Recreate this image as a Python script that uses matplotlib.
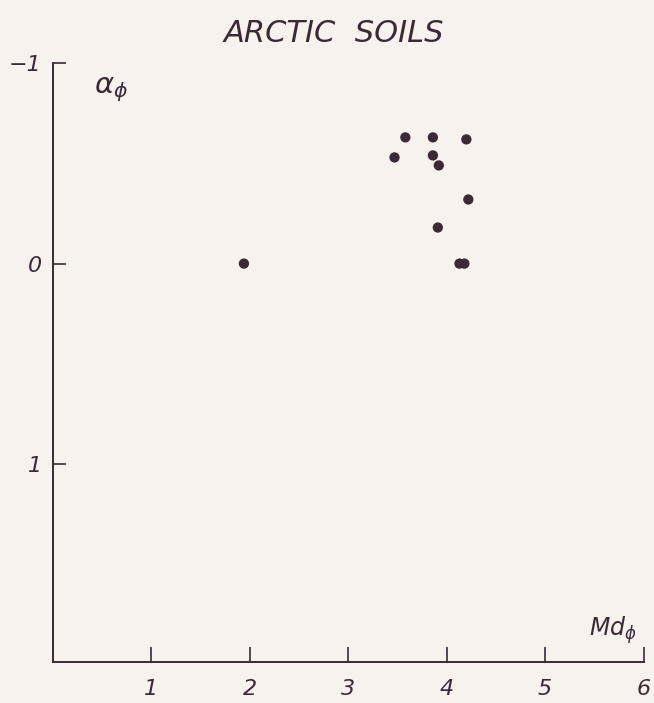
import matplotlib

matplotlib.use("Agg")
import matplotlib.pyplot as plt

# median grain size (phi) and skewness (phi) of arctic soil samples
md_phi = [1.94, 3.47, 3.58, 3.86, 3.86, 3.92, 3.91, 4.20, 4.22, 4.13, 4.18]
alpha_phi = [0.0, -0.53, -0.63, -0.63, -0.54, -0.49, -0.18, -0.62, -0.32, 0.0, 0.0]

x_ticks = [1, 2, 3, 4, 5, 6]
y_ticks = [-1, 0, 1]
y_tick_labels = ["\u22121", "0", "1"]

ink = "#3a2a36"
paper = "#f8f2ee"

fig = plt.figure(figsize=(6.54, 7.03), dpi=100, facecolor=paper)
ax = fig.add_axes([0.081, 0.058, 0.903, 0.852])
ax.set_facecolor(paper)

ax.scatter(md_phi, alpha_phi, s=55, color=ink, edgecolors="none", zorder=3)

ax.set_xlim(0, 6)
ax.set_ylim(1.99, -1)

for side in ("top", "right"):
    ax.spines[side].set_visible(False)
for side in ("left", "bottom"):
    ax.spines[side].set_color(ink)
    ax.spines[side].set_linewidth(1.4)

ax.set_xticks(x_ticks)
ax.set_xticklabels([str(t) for t in x_ticks], fontstyle="italic", fontsize=16, color=ink)
ax.set_yticks(y_ticks)
ax.set_yticklabels(y_tick_labels, fontstyle="italic", fontsize=16, color=ink)
ax.tick_params(axis="x", direction="in", length=11, width=1.2, color=ink, pad=12)
ax.tick_params(axis="y", direction="in", length=9, width=1.2, color=ink, pad=8)

ax.text(0.42, -0.87, r"$\alpha_{\phi}$", fontsize=21, color=ink, ha="left", va="center")
ax.text(5.45, 1.83, r"$Md_{\phi}$", fontsize=17, color=ink, ha="left", va="center")

fig.text(0.51, 0.952, "ARCTIC  SOILS", fontsize=22, fontstyle="italic", color=ink,
         ha="center", va="center")

fig.savefig("out.png", dpi=100, facecolor=paper)
